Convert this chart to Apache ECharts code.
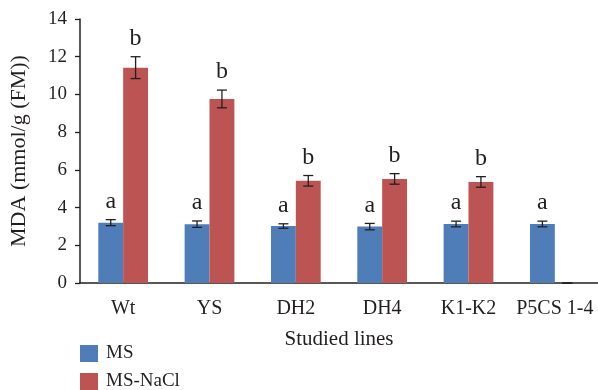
<!doctype html>
<html lang="en">
<head>
  <meta charset="UTF-8">
  <title>MDA</title>
  <script src="https://cdn.jsdelivr.net/npm/echarts@6/dist/echarts.min.js"></script>
  <style>
    html, body { margin: 0; padding: 0; background: #fff; }
    #chart { width: 598px; height: 390px; }
  </style>
</head>
<body>
<div id="chart"></div>
<script>
  // data
  var lines = ['Wt', 'YS', 'DH2', 'DH4', 'K1-K2', 'P5CS 1-4'];
  var msValues = [3.2, 3.12, 3.02, 2.99, 3.13, 3.13];
  var msErr = [0.16, 0.17, 0.12, 0.17, 0.15, 0.15];
  var msLetters = ['a', 'a', 'a', 'a', 'a', 'a'];
  var naclValues = [11.42, 9.76, 5.42, 5.52, 5.36, 0];
  var naclErr = [0.58, 0.47, 0.28, 0.28, 0.28, 0];
  var naclLetters = ['b', 'b', 'b', 'b', 'b', ''];
  var yTicks = [0, 2, 4, 6, 8, 10, 12, 14];

  var serif = 'Liberation Serif';
  var ink = '#231f20';
  var barPct = 0.288;

  function errData(vals, errs, letters) {
    return vals.map(function (v, i) { return [i, v, errs[i], letters[i]]; });
  }

  function errSeries(name, data, side) {
    return {
      name: name + '-err',
      type: 'custom',
      data: data,
      z: 5,
      renderItem: function (params, api) {
        var i = api.value(0), v = api.value(1), e = api.value(2);
        var band = api.size([1, 0])[0];
        var off = side * band * barPct / 2;
        var top = api.coord([i, v + e]);
        var bot = api.coord([i, v - e]);
        var x = top[0] + off;
        var cap = 5;
        var kids = [
          { type: 'line', shape: { x1: x, y1: top[1], x2: x, y2: bot[1] }, style: { stroke: ink, lineWidth: 1.3 } },
          { type: 'line', shape: { x1: x - cap, y1: top[1], x2: x + cap, y2: top[1] }, style: { stroke: ink, lineWidth: 1.3 } },
          { type: 'line', shape: { x1: x - cap, y1: bot[1], x2: x + cap, y2: bot[1] }, style: { stroke: ink, lineWidth: 1.3 } }
        ];
        var letter = data[params.dataIndex][3];
        if (letter) {
          kids.push({
            type: 'text',
            style: {
              x: x, y: top[1] - 6, text: letter,
              textAlign: 'center', textVerticalAlign: 'bottom',
              font: '24px "' + serif + '"', fill: ink
            }
          });
        }
        return { type: 'group', children: kids };
      }
    };
  }

  var chart = echarts.init(document.getElementById('chart'));
  var option = {
    animation: false,
    grid: { left: 77, right: 0, top: 19, bottom: 107 },
    legend: {
      data: ['MS', 'MS-NaCl'],
      orient: 'vertical',
      left: 80, top: 344, height: 60,
      padding: 0,
      itemWidth: 18, itemHeight: 17, itemGap: 9,
      icon: 'rect',
      textStyle: { fontFamily: serif, fontSize: 19, lineHeight: 17, color: ink, padding: [0, 0, 0, 3] }
    },
    xAxis: {
      type: 'category',
      data: lines,
      name: 'Studied lines',
      nameLocation: 'middle',
      nameGap: 46,
      nameTextStyle: { fontFamily: serif, fontSize: 21, color: ink },
      axisLine: { lineStyle: { color: ink, width: 1.5 } },
      axisTick: { length: 6, lineStyle: { color: ink, width: 1.3 } },
      axisLabel: { interval: 0, fontFamily: serif, fontSize: 20, color: ink, margin: 16 }
    },
    yAxis: {
      type: 'value',
      min: yTicks[0], max: yTicks[yTicks.length - 1], interval: 2,
      name: 'MDA (mmol/g (FM))',
      nameLocation: 'middle',
      nameGap: 50,
      nameTextStyle: { fontFamily: serif, fontSize: 22, color: ink },
      axisLine: { show: true, lineStyle: { color: ink, width: 1.5 } },
      axisTick: { show: true, length: 5, lineStyle: { color: ink, width: 1.3 } },
      axisLabel: { fontFamily: serif, fontSize: 19, color: ink, margin: 13 },
      splitLine: { show: false }
    },
    series: [
      { name: 'MS', type: 'bar', data: msValues, barWidth: (barPct * 100) + '%', barGap: '0%', itemStyle: { color: '#4f7db8' } },
      { name: 'MS-NaCl', type: 'bar', data: naclValues, barWidth: (barPct * 100) + '%', barGap: '0%', itemStyle: { color: '#bb5452' } },
      errSeries('MS', errData(msValues, msErr, msLetters), -1),
      errSeries('MS-NaCl', errData(naclValues, naclErr, naclLetters), 1)
    ]
  };
  chart.setOption(option);
</script>
</body>
</html>
